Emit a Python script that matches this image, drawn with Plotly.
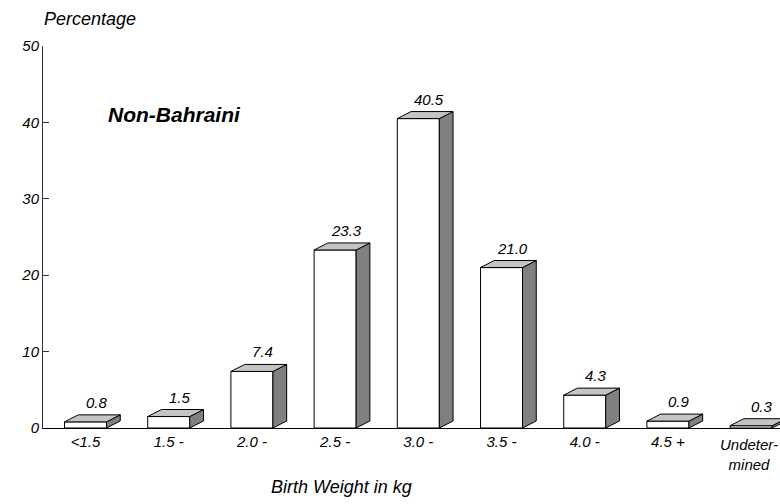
import plotly.graph_objects as go

# birth weight distribution, non-Bahraini
CATEGORIES = ["<1.5", "1.5 -", "2.0 -", "2.5 -", "3.0 -", "3.5 -", "4.0 -", "4.5 +", "Undeter-<br>mined"]
PERCENT = [0.8, 1.5, 7.4, 23.3, 40.5, 21.0, 4.3, 0.9, 0.3]
Y_TICKS = [0, 10, 20, 30, 40, 50]

FONT = "Arial, 'Liberation Sans', sans-serif"
BAR_W = 0.505   # front face width in category units
DX = 0.165      # depth offset (category units)
DY = 0.92       # depth offset (data units)

idx = list(range(len(CATEGORIES)))

fig = go.Figure()

# front faces
fig.add_trace(go.Bar(
    x=idx, y=PERCENT, width=BAR_W,
    marker=dict(color="white", line=dict(color="black", width=1)),
    hoverinfo="skip", showlegend=False,
))

# tops and sides as filled polygons built from the values
top_x, top_y, side_x, side_y = [], [], [], []
for i, v in zip(idx, PERCENT):
    l, r = i - BAR_W / 2, i + BAR_W / 2
    top_x += [l, l + DX, r + DX, r, l, None]
    top_y += [v, v + DY, v + DY, v, v, None]
    side_x += [r, r, r + DX, r + DX, r, None]
    side_y += [0, v, v + DY, DY, 0, None]

fig.add_trace(go.Scatter(
    x=side_x, y=side_y, mode="lines", fill="toself", fillcolor="#808080",
    line=dict(color="black", width=1), hoverinfo="skip", showlegend=False,
))
fig.add_trace(go.Scatter(
    x=top_x, y=top_y, mode="lines", fill="toself", fillcolor="#c4c4c4",
    line=dict(color="black", width=1), hoverinfo="skip", showlegend=False,
))

# value labels over the top faces
for i, v in zip(idx, PERCENT):
    fig.add_annotation(
        x=i + DX * 0.8, y=v + DY, text=f"{v:.1f}", showarrow=False,
        yanchor="bottom", yshift=2,
        font=dict(family=FONT, size=15, color="black", style="italic"),
    )

# last category label kept inside the right edge
fig.add_annotation(
    xref="paper", yref="paper", x=1.0, y=0, yshift=-6, text=CATEGORIES[-1],
    showarrow=False, xanchor="right", yanchor="top", align="center",
    font=dict(family=FONT, size=15, color="black", style="italic"),
)

fig.add_annotation(
    xref="paper", yref="paper", x=0.085, y=0.857, text="<b>Non-Bahraini</b>",
    showarrow=False, xanchor="left",
    font=dict(family=FONT, size=21, color="black", style="italic"),
)
fig.add_annotation(
    xref="paper", yref="paper", x=-0.001, y=1.0, yshift=39, text="Percentage",
    showarrow=False, xanchor="left",
    font=dict(family=FONT, size=18, color="black", style="italic"),
)
fig.add_annotation(
    xref="paper", yref="paper", x=0.405, y=0, yshift=-71, text="Birth Weight in kg",
    showarrow=False, xanchor="center",
    font=dict(family=FONT, size=18, color="black", style="italic"),
)

fig.update_xaxes(
    range=[-0.511, 8.347], tickvals=idx[:-1], ticktext=CATEGORIES[:-1],
    showline=True, linecolor="black", linewidth=1, showgrid=False, zeroline=False,
    ticks="", ticklabelstandoff=0,
    tickfont=dict(family=FONT, size=15, color="black", style="italic"),
    automargin=False, fixedrange=True,
)
fig.update_yaxes(
    range=[0, 50], tickvals=Y_TICKS,
    showline=True, linecolor="#333333", linewidth=1, showgrid=False, zeroline=False,
    ticks="inside", ticklen=6, tickcolor="#333333",
    tickfont=dict(family=FONT, size=15, color="black", style="italic"),
    automargin=False, fixedrange=True,
)

fig.update_layout(
    width=780, height=504,
    margin=dict(l=43, r=0, t=46, b=76),
    plot_bgcolor="white", paper_bgcolor="white",
    showlegend=False,
)

# drop the default page margin so the figure sits at the window's corner
fig.write_html(
    "out.html",
    config={"displayModeBar": False},
    post_script="document.body.style.margin='0px';",
)
